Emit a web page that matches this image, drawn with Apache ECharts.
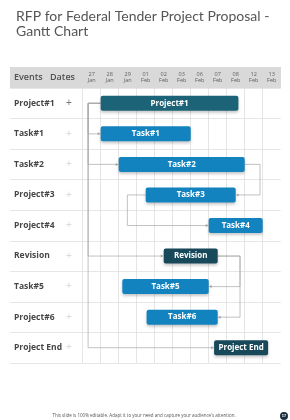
<!DOCTYPE html>
<html>
<head>
<meta charset="utf-8">
<script src="https://cdn.jsdelivr.net/npm/echarts@6/dist/echarts.min.js"></script>
<style>
  html, body { margin: 0; padding: 0; background: #fff; }
  #chart { width: 290px; height: 420px; }
</style>
</head>
<body>
<div id="chart"></div>
<script>
// rows of the gantt (top to bottom)
const events = ['Project#1', 'Task#1', 'Task#2', 'Project#3', 'Project#4', 'Revision', 'Task#5', 'Project#6', 'Project End'];
// header columns
const dateDays = ['27', '28', '29', '01', '02', '03', '06', '07', '08', '12', '13'];
const dateMonths = ['Jan', 'Jan', 'Jan', 'Feb', 'Feb', 'Feb', 'Feb', 'Feb', 'Feb', 'Feb', 'Feb'];
// bars, in column units (0 = left edge of 27 Jan)
const barLabels = ['Project#1', 'Task#1', 'Task#2', 'Task#3', 'Task#4', 'Revision', 'Task#5', 'Task#6', 'Project End'];
const barStart = [1.0, 1.0, 2.0, 3.5, 7.0, 4.5, 2.2, 3.55, 7.3];
const barEnd = [8.65, 6.0, 9.0, 8.5, 10.0, 7.5, 7.0, 7.5, 10.3];
const barKind = ['project', 'task', 'task', 'task', 'task', 'milestone', 'task', 'task', 'milestone'];
// dependency links: [fromRow, fromX, turnX, toRow, toX]
const links = [
  [0, 1.0, 0.3, 1, 1.0],
  [0, 1.0, 0.3, 2, 2.0],
  [0, 1.0, 0.3, 5, 4.5],
  [0, 1.0, 0.3, 8, 7.3],
  [2, 9.0, 9.85, 3, 8.5],
  [3, 3.5, 2.48, 4, 7.0],
  [5, 7.5, 8.74, 6, 7.0],
  [5, 7.5, 8.74, 7, 7.5]
];

const kindColor = {
  project: '#1d6378',
  task: '#1283bf',
  milestone: '#17495b'
};

const chart = echarts.init(document.getElementById('chart'));

const barData = barLabels.map((name, i) => [i, barStart[i], barEnd[i], name, barKind[i]]);

function renderBar(params, api) {
  const row = api.value(0);
  const p0 = api.coord([api.value(1), row]);
  const p1 = api.coord([api.value(2), row]);
  const h = 15;
  const kind = barKind[params.dataIndex];
  return {
    type: 'group',
    children: [
      {
        type: 'rect',
        shape: { x: p0[0], y: p0[1] - h / 2, width: p1[0] - p0[0], height: h, r: 2 },
        style: {
          fill: kindColor[kind],
          shadowBlur: 3,
          shadowOffsetY: 2,
          shadowColor: 'rgba(0,0,0,0.22)'
        }
      },
      {
        type: 'text',
        style: {
          text: barLabels[params.dataIndex],
          x: (p0[0] + p1[0]) / 2,
          y: p0[1],
          align: 'center',
          verticalAlign: 'middle',
          fill: '#fff',
          font: 'bold 8px "Open Sans", sans-serif'
        }
      }
    ]
  };
}

function renderLink(params, api) {
  const a = api.coord([api.value(1), api.value(0)]);
  const b = api.coord([api.value(2), api.value(0)]);
  const c = api.coord([api.value(2), api.value(3)]);
  const d = api.coord([api.value(4), api.value(3)]);
  const dir = d[0] > c[0] ? 1 : -1;
  const tip = [d[0], d[1]];
  return {
    type: 'group',
    children: [
      {
        type: 'polyline',
        shape: { points: [a, b, c, [d[0] - dir * 2.5, d[1]]] },
        style: { stroke: '#a8a8a8', lineWidth: 0.7, fill: null }
      },
      {
        type: 'polygon',
        shape: { points: [tip, [tip[0] - dir * 3, tip[1] - 1.5], [tip[0] - dir * 3, tip[1] + 1.5]] },
        style: { fill: '#a8a8a8' }
      }
    ]
  };
}

const option = {
  animation: false,
  title: {
    text: 'RFP for Federal Tender Project Proposal -\nGantt Chart',
    left: 11,
    top: 4,
    textStyle: {
      fontFamily: 'Lato',
      fontWeight: 'normal',
      fontSize: 14,
      lineHeight: 15,
      color: '#555'
    }
  },
  grid: [
    { left: 82.7, top: 88, width: 198, height: 275 },
    { left: 10, top: 88, width: 72.7, height: 275 }
  ],
  xAxis: [
    {
      type: 'value', gridIndex: 0, min: 0, max: 11, interval: 1,
      axisLabel: { show: false }, axisLine: { show: false }, axisTick: { show: false },
      splitLine: { show: true, showMaxLine: false, lineStyle: { color: '#dedede', width: 0.8 } }
    },
    {
      type: 'category', gridIndex: 0, position: 'top', data: dateDays,
      axisLine: { show: false }, axisTick: { show: false }, splitLine: { show: false },
      axisLabel: {
        interval: 0, margin: 4, fontSize: 5.5, lineHeight: 6.5, color: '#606060',
        fontFamily: 'Open Sans',
        formatter: (v, i) => v + '\n' + dateMonths[i]
      }
    },
    {
      type: 'value', gridIndex: 1, min: 0, max: 1, show: false
    }
  ],
  yAxis: [
    {
      type: 'category', gridIndex: 0, data: events, inverse: true,
      axisLine: { show: false }, axisTick: { show: false },
      splitLine: { show: true, lineStyle: { color: '#e0e0e0', width: 0.8 } },
      axisLabel: {
        margin: 68.7, align: 'left',
        formatter: (v, i) => '{n|' + v + '}{' + (i === 0 ? 'p0' : 'p') + '|+}',
        rich: {
          n: { width: 52, fontSize: 8.5, fontWeight: 'bold', color: '#464646', fontFamily: 'Open Sans' },
          p0: { fontSize: 10, color: '#777' },
          p: { fontSize: 10, color: '#dadada' }
        }
      }
    },
    {
      type: 'category', gridIndex: 1, data: events, inverse: true,
      axisLine: { show: false }, axisTick: { show: false }, axisLabel: { show: false },
      splitLine: { show: true, lineStyle: { color: '#e0e0e0', width: 0.8 } }
    }
  ],
  graphic: [
    { type: 'rect', z: -1, shape: { x: 10, y: 67, width: 271, height: 21 }, style: { fill: '#d9d9d9' } },
    { type: 'text', x: 14, y: 77.5, style: { text: 'Events', fill: '#505050', font: '600 9px "Open Sans", sans-serif', verticalAlign: 'middle' } },
    { type: 'text', x: 50, y: 77.5, style: { text: 'Dates', fill: '#505050', font: '600 9px "Open Sans", sans-serif', verticalAlign: 'middle' } },
    { type: 'text', x: 144, y: 416, style: { text: 'This slide is 100% editable. Adapt it to your need and capture your audience\u2019s attention.', fill: '#555', font: '4.5px "Open Sans", sans-serif', align: 'center', verticalAlign: 'middle' } },
    { type: 'circle', shape: { cx: 284, cy: 416, r: 4 }, style: { fill: '#1c2d3f' } },
    { type: 'text', x: 284, y: 416, style: { text: '17', fill: '#fff', font: 'bold 4px sans-serif', align: 'center', verticalAlign: 'middle' } }
  ],
  series: [
    {
      type: 'custom', name: 'links', xAxisIndex: 0, yAxisIndex: 0,
      renderItem: renderLink, data: links, z: 2, silent: true
    },
    {
      type: 'custom', name: 'bars', xAxisIndex: 0, yAxisIndex: 0,
      renderItem: renderBar, data: barData, encode: { x: [1, 2], y: 0 }, z: 3
    }
  ]
};

chart.setOption(option);
</script>
</body>
</html>
